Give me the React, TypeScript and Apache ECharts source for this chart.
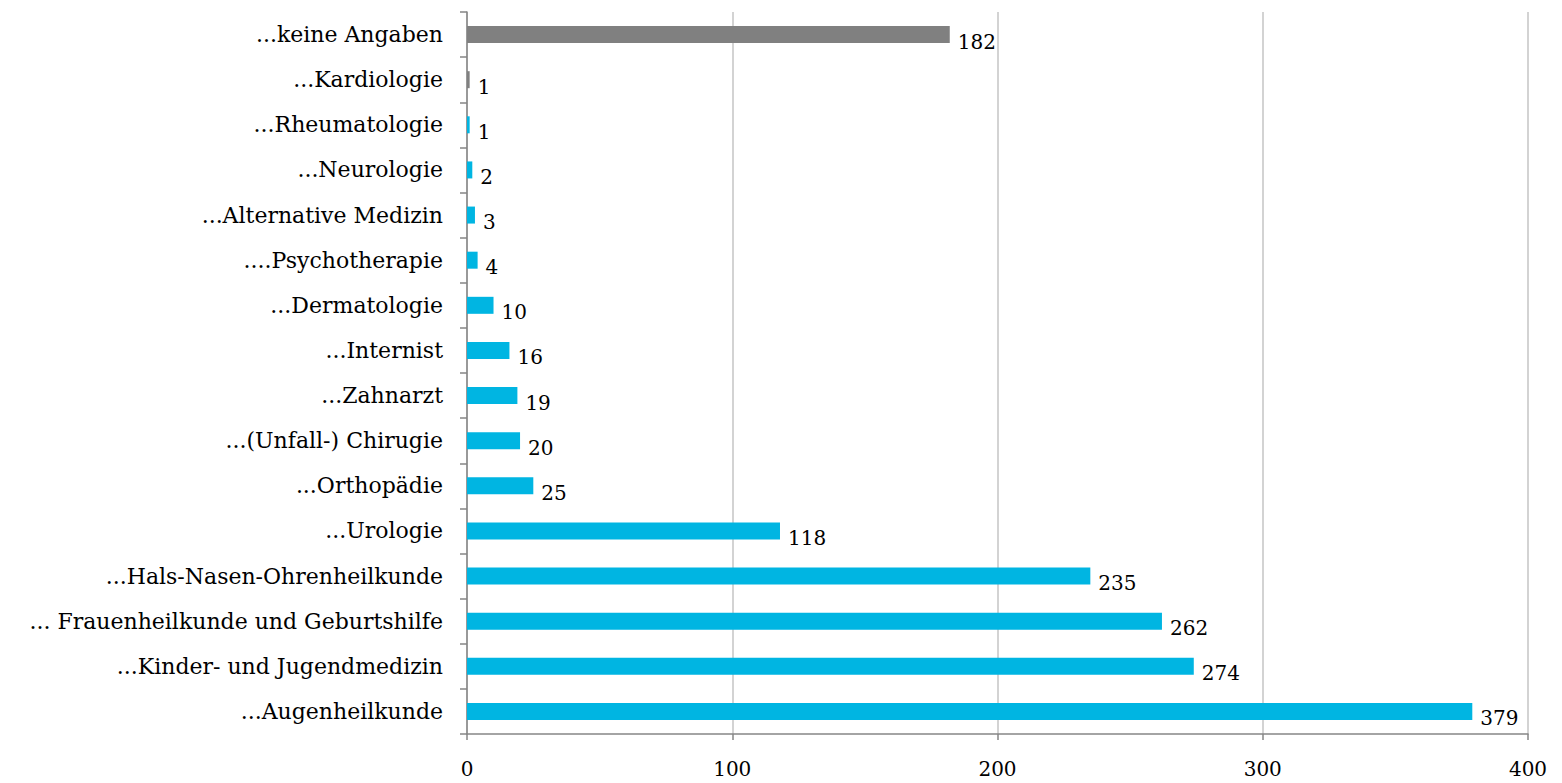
import React, { useEffect, useRef } from "react";
import * as echarts from "echarts";

const categories = [
  "...Augenheilkunde",
  "...Kinder- und Jugendmedizin",
  "... Frauenheilkunde und Geburtshilfe",
  "...Hals-Nasen-Ohrenheilkunde",
  "...Urologie",
  "...Orthopädie",
  "...(Unfall-) Chirugie",
  "...Zahnarzt",
  "...Internist",
  "...Dermatologie",
  "....Psychotherapie",
  "...Alternative Medizin",
  "...Neurologie",
  "...Rheumatologie",
  "...Kardiologie",
  "...keine Angaben",
];
const values = [379, 274, 262, 235, 118, 25, 20, 19, 16, 10, 4, 3, 2, 1, 1, 182];
const greyCategories = ["...Kardiologie", "...keine Angaben"];
const xTicks = [0, 100, 200, 300, 400];

const CYAN = "#00B5E2";
const GREY = "#808080";
const FONT = "DejaVu Serif";

export default function App() {
  const ref = useRef<HTMLDivElement>(null);
  useEffect(() => {
    if (!ref.current) return;
    const chart = echarts.init(ref.current, undefined, { renderer: "svg" });
    chart.setOption({
      animation: false,
      grid: { left: 467, right: 34, top: 12, bottom: 49, containLabel: false },
      xAxis: {
        type: "value",
        min: xTicks[0],
        max: xTicks[xTicks.length - 1],
        interval: 100,
        axisLine: { show: true, lineStyle: { color: "#868686", width: 1.5 } },
        axisTick: { show: true, length: 6, lineStyle: { color: "#868686", width: 1.5 } },
        axisLabel: { color: "#000", fontFamily: FONT, fontSize: 20, margin: 25 },
        splitLine: { show: true, lineStyle: { color: "#c4c4c4", width: 1.5 } },
      },
      yAxis: {
        type: "category",
        data: categories,
        axisLine: { show: true, lineStyle: { color: "#868686", width: 1.5 } },
        axisTick: { show: true, length: 7, lineStyle: { color: "#868686", width: 1.5 } },
        axisLabel: { color: "#000", fontFamily: FONT, fontSize: 22, margin: 24 },
      },
      series: [
        {
          type: "bar",
          data: values.map((v, i) => ({
            value: v,
            itemStyle: { color: greyCategories.includes(categories[i]) ? GREY : CYAN },
          })),
          barWidth: 17,
          label: {
            show: true,
            position: "right",
            distance: 8,
            offset: [0, 7],
            color: "#000",
            fontFamily: FONT,
            fontSize: 20,
          },
        },
      ],
    });
    return () => chart.dispose();
  }, []);
  return (
    <div
      ref={ref}
      style={{ position: "fixed", left: 0, top: 0, width: 1562, height: 783, background: "#fff" }}
    />
  );
}
